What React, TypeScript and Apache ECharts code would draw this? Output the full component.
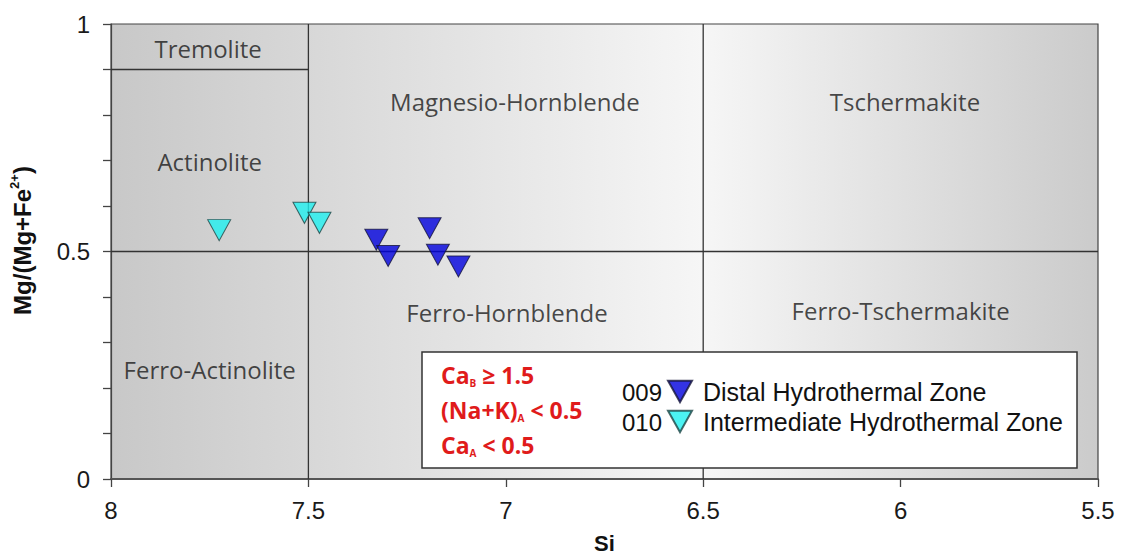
import React, { useEffect, useRef } from "react";
import * as echarts from "echarts";

// ---- data ----
const xTicks = [8, 7.5, 7, 6.5, 6, 5.5];
const yLabelTicks = [0, 0.5, 1];

const distalSi = [7.328, 7.298, 7.193, 7.172, 7.12];
const distalMg = [0.526, 0.49, 0.551, 0.493, 0.467];

const interSi = [7.726, 7.51, 7.472];
const interMg = [0.547, 0.585, 0.563];

const regionNames = [
  "Tremolite",
  "Actinolite",
  "Ferro-Actinolite",
  "Magnesio-Hornblende",
  "Ferro-Hornblende",
  "Tschermakite",
  "Ferro-Tschermakite",
];
const regionSi = [7.754, 7.75, 7.75, 6.977, 6.997, 5.989, 6.0];
const regionMg = [0.947, 0.697, 0.24, 0.829, 0.367, 0.829, 0.371];

// boundary segments [[x1,y1],[x2,y2]]
const boundaries = [
  [[7.5, 0], [7.5, 1]],
  [[6.5, 0], [6.5, 1]],
  [[8, 0.5], [5.5, 0.5]],
  [[8, 0.9], [7.5, 0.9]],
];

const conditionLines = [
  ["Ca", "B", " ≥ 1.5"],
  ["(Na+K)", "A", " < 0.5"],
  ["Ca", "A", " < 0.5"],
];
const legendCodes = ["009", "010"];
const seriesNames = ["Distal Hydrothermal Zone", "Intermediate Hydrothermal Zone"];

const tri = "path://M0,0L20,0L10,18Z";

export default function App() {
  const ref = useRef<HTMLDivElement>(null);
  useEffect(() => {
    if (!ref.current) return;
    const chart = echarts.init(ref.current, undefined, { renderer: "svg" });
    const labelFont = "'Open Sans', 'Noto Sans', sans-serif";
    const tickFont = "'Liberation Sans', Arial, sans-serif";
    const red = "#e01b1b";
    const lineSeries = boundaries.map((seg) => ({
      type: "line",
      data: seg,
      showSymbol: false,
      symbol: "none",
      silent: true,
      lineStyle: { color: "#333", width: 1.3 },
      z: 2,
    }));
    chart.setOption({
      animation: false,
      grid: {
        left: 111,
        right: 23,
        top: 24,
        bottom: 77,
        containLabel: false,
        outerBoundsMode: "none",
        show: true,
        borderColor: "#444",
        borderWidth: 1.2,
        backgroundColor: {
          type: "linear",
          x: 0,
          y: 0,
          x2: 1,
          y2: 0,
          colorStops: [
            { offset: 0, color: "#c8c8c8" },
            { offset: 0.6, color: "#f6f6f6" },
            { offset: 1, color: "#cbcbcb" },
          ],
        },
      },
      xAxis: {
        type: "value",
        inverse: true,
        min: 5.5,
        max: 8,
        interval: 0.5,
        name: "Si",
        nameLocation: "middle",
        nameGap: 53,
        nameTextStyle: { fontFamily: tickFont, fontWeight: "bold", fontSize: 22, color: "#111" },
        axisLine: { show: true, lineStyle: { color: "#555", width: 2 } },
        axisTick: { show: true, length: 8, inside: false, lineStyle: { color: "#444", width: 1.3 } },
        axisLabel: {
          fontFamily: tickFont,
          fontSize: 24,
          color: "#1a1a1a",
          margin: 19,
          formatter: (v: number) => (xTicks.includes(v) ? String(v) : ""),
        },
        splitLine: { show: false },
      },
      yAxis: {
        type: "value",
        min: 0,
        max: 1,
        interval: 0.1,
        name: "{m|Mg/(Mg+Fe}{s|2+}{m|)}",
        nameLocation: "middle",
        nameGap: 75,
        nameTextStyle: {
          padding: [0, 0, 0, 22],
          rich: {
            m: { fontFamily: tickFont, fontWeight: "bold", fontSize: 24, color: "#111", lineHeight: 28 },
            s: { fontFamily: tickFont, fontWeight: "bold", fontSize: 13, color: "#111", verticalAlign: "top", lineHeight: 28 },
          },
        },
        axisLine: { show: true, lineStyle: { color: "#444", width: 1.2 } },
        axisTick: { show: true, length: 8, inside: false, lineStyle: { color: "#444", width: 1.3 } },
        axisLabel: {
          fontFamily: tickFont,
          fontSize: 24,
          color: "#1a1a1a",
          margin: 21,
          formatter: (v: number) => {
            const r = Math.round(v * 10) / 10;
            return yLabelTicks.includes(r) ? String(r) : "";
          },
        },
        splitLine: { show: false },
      },
      legend: {
        orient: "vertical",
        left: 667,
        top: 379,
        padding: 0,
        itemWidth: 24,
        itemHeight: 22,
        itemGap: 5,
        icon: tri,
        z: 20,
        textStyle: { fontFamily: tickFont, fontSize: 25, lineHeight: 25, color: "#111", padding: [0, 0, 0, 6] },
        data: seriesNames,
      },
      graphic: [
        {
          type: "rect",
          z: 10,
          shape: { x: 422, y: 352, width: 655, height: 116 },
          style: { fill: "#fff", stroke: "#333", lineWidth: 1.5 },
        },
        ...conditionLines.map((c, i) => ({
          type: "text",
          z: 21,
          x: 441,
          y: 375 + i * 35,
          style: {
            text: `{m|${c[0]}}{s|${c[1]}}{m|${c[2]}}`,
            verticalAlign: "middle",
            rich: {
              m: { fontFamily: labelFont, fontWeight: "bold", fontSize: 23, fill: red, lineHeight: 26 },
              s: { fontFamily: labelFont, fontWeight: "bold", fontSize: 10, fill: red, verticalAlign: "bottom", lineHeight: 10 },
            },
          },
        })),
        ...legendCodes.map((c, i) => ({
          type: "text",
          z: 21,
          x: 662,
          y: 392 + i * 30,
          style: {
            text: c,
            align: "right",
            verticalAlign: "middle",
            fontFamily: tickFont,
            fontSize: 24,
            fill: "#111",
          },
        })),
      ],
      series: [
        ...lineSeries,
        {
          type: "scatter",
          silent: true,
          symbolSize: 0,
          z: 3,
          data: regionNames.map((n, i) => ({ name: n, value: [regionSi[i], regionMg[i]] })),
          label: {
            show: true,
            position: "inside",
            formatter: (p: any) => p.name,
            fontFamily: labelFont,
            fontSize: 24,
            color: "#1a1a1a",
          },
        },
        {
          name: seriesNames[0],
          type: "scatter",
          symbol: tri,
          symbolSize: [23, 21],
          z: 5,
          itemStyle: { color: "#0000dd", borderColor: "#15153a", borderWidth: 1 },
          data: distalSi.map((x, i) => [x, distalMg[i]]),
        },
        {
          name: seriesNames[1],
          type: "scatter",
          symbol: tri,
          symbolSize: [23, 21],
          z: 5,
          itemStyle: { color: "#1ff0f0", borderColor: "#1d4545", borderWidth: 1 },
          data: interSi.map((x, i) => [x, interMg[i]]),
        },
      ],
    });
    return () => chart.dispose();
  }, []);
  return (
    <div
      ref={ref}
      style={{ position: "absolute", left: 0, top: 0, width: 1121, height: 556 }}
    />
  );
}
